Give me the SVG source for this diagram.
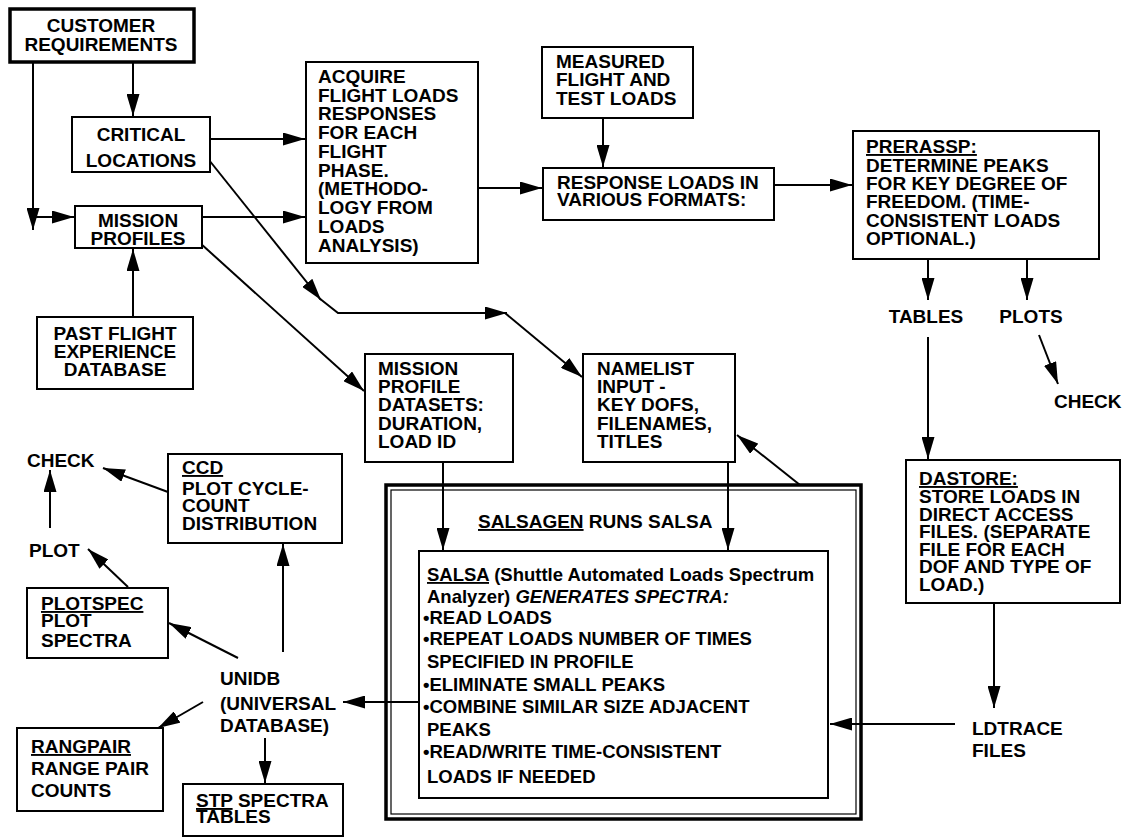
<svg xmlns="http://www.w3.org/2000/svg" width="1127" height="837" viewBox="0 0 1127 837">
  <style>
    .box { fill: #fff; stroke: #000; stroke-width: 2; }
    .thick { fill: #fff; stroke: #000; stroke-width: 3.5; }
    .t { font-family: "Liberation Sans", Arial, sans-serif; font-weight: bold; font-size: 19px; fill: #000; }
    .s { font-size: 18.5px; }
    .c { text-anchor: middle; }
    .u { text-decoration: underline; }
    .i { font-style: italic; }
    .ln { fill: none; stroke: #000; stroke-width: 2; }
    .arr { marker-end: url(#ah); }
  </style>
  <defs>
    <marker id="ah" markerUnits="userSpaceOnUse" markerWidth="23" markerHeight="13" refX="22" refY="6.5" orient="auto">
      <path d="M0,0 L22,6.5 L0,13 z" fill="#000"/>
    </marker>
  </defs>
  <rect width="1127" height="837" fill="#fff"/>

  <!-- connectors -->
  <g id="connectors">
    <line class="ln arr" x1="133" y1="63" x2="133" y2="116"/>
    <line class="ln arr" x1="33" y1="63" x2="33" y2="230"/>
    <line class="ln arr" x1="34" y1="217" x2="74" y2="217"/>
    <line class="ln arr" x1="210" y1="139" x2="305" y2="139"/>
    <line class="ln arr" x1="202" y1="217" x2="305" y2="217"/>
    <line class="ln arr" x1="133" y1="317" x2="133" y2="249"/>
    <line class="ln arr" x1="603" y1="118" x2="603" y2="167"/>
    <line class="ln arr" x1="478" y1="188" x2="542" y2="188"/>
    <line class="ln arr" x1="774" y1="185" x2="852" y2="185"/>
    <line class="ln arr" x1="928" y1="259" x2="928" y2="300"/>
    <line class="ln arr" x1="1027" y1="259" x2="1027" y2="300"/>
    <line class="ln arr" x1="1039" y1="335" x2="1058" y2="384"/>
    <line class="ln arr" x1="928" y1="337" x2="928" y2="459"/>
    <line class="ln arr" x1="994" y1="603" x2="994" y2="708"/>
    <line class="ln arr" x1="955" y1="724" x2="830" y2="724"/>
    <!-- critical locations to namelist -->
    <line class="ln arr" x1="209" y1="160" x2="321" y2="300"/>
    <polyline class="ln arr" points="319,298 338,313 507,313"/>
    <line class="ln arr" x1="505" y1="313" x2="582" y2="377"/>
    <!-- mission profiles to datasets -->
    <line class="ln arr" x1="200" y1="243" x2="364" y2="391"/>
    <line class="ln arr" x1="443" y1="462" x2="443" y2="550"/>
    <line class="ln arr" x1="728" y1="462" x2="728" y2="550"/>
    <line class="ln arr" x1="800" y1="485" x2="737" y2="435"/>
    <line class="ln arr" x1="419" y1="702" x2="343" y2="702"/>
    <!-- unidb outputs -->
    <line class="ln arr" x1="283" y1="652" x2="283" y2="544"/>
    <line class="ln arr" x1="238" y1="658" x2="169" y2="623"/>
    <line class="ln arr" x1="203" y1="702" x2="158" y2="728"/>
    <line class="ln arr" x1="265" y1="738" x2="265" y2="783"/>
    <line class="ln arr" x1="168" y1="492" x2="103" y2="468"/>
    <line class="ln arr" x1="50" y1="528" x2="50" y2="470"/>
    <line class="ln arr" x1="128" y1="587" x2="88" y2="549"/>
  </g>

  <g id="customer-requirements">
    <rect class="thick" x="10" y="9" width="184" height="53"/>
    <text class="t c" x="101" y="32">CUSTOMER</text>
    <text class="t c" x="101" y="51">REQUIREMENTS</text>
  </g>

  <g id="critical-locations">
    <rect class="box" x="72" y="117" width="138" height="55"/>
    <text class="t c" x="141" y="141">CRITICAL</text>
    <text class="t c" x="141" y="167">LOCATIONS</text>
  </g>

  <g id="mission-profiles">
    <rect class="box" x="75" y="206" width="127" height="42"/>
    <text class="t c" x="138" y="227">MISSION</text>
    <text class="t c" x="138" y="245">PROFILES</text>
  </g>

  <g id="past-flight">
    <rect class="box" x="37" y="317" width="156" height="72"/>
    <text class="t c" x="115" y="340">PAST FLIGHT</text>
    <text class="t c" x="115" y="358">EXPERIENCE</text>
    <text class="t c" x="115" y="376">DATABASE</text>
  </g>

  <g id="acquire">
    <rect class="box" x="306" y="62" width="172" height="201"/>
    <text class="t" x="318" y="83">ACQUIRE</text>
    <text class="t" x="318" y="102">FLIGHT LOADS</text>
    <text class="t" x="318" y="120">RESPONSES</text>
    <text class="t" x="318" y="139">FOR EACH</text>
    <text class="t" x="318" y="158">FLIGHT</text>
    <text class="t" x="318" y="177">PHASE.</text>
    <text class="t" x="318" y="195">(METHODO-</text>
    <text class="t" x="318" y="214">LOGY FROM</text>
    <text class="t" x="318" y="233">LOADS</text>
    <text class="t" x="318" y="252">ANALYSIS)</text>
  </g>

  <g id="measured">
    <rect class="box" x="542" y="47" width="151" height="71"/>
    <text class="t" x="556" y="68">MEASURED</text>
    <text class="t" x="556" y="86">FLIGHT AND</text>
    <text class="t" x="556" y="105">TEST LOADS</text>
  </g>

  <g id="response-loads">
    <rect class="box" x="543" y="168" width="231" height="52"/>
    <text class="t" x="557" y="189">RESPONSE LOADS IN</text>
    <text class="t" x="557" y="206">VARIOUS FORMATS:</text>
  </g>

  <g id="prerassp">
    <rect class="box" x="853" y="131" width="246" height="128"/>
    <text class="t" x="866" y="153"><tspan class="u">PRERASSP:</tspan></text>
    <text class="t" x="866" y="172">DETERMINE PEAKS</text>
    <text class="t" x="866" y="190">FOR KEY DEGREE OF</text>
    <text class="t" x="866" y="208">FREEDOM.  (TIME-</text>
    <text class="t" x="866" y="227">CONSISTENT LOADS</text>
    <text class="t" x="866" y="245">OPTIONAL.)</text>
  </g>

  <g id="tables"><text class="t c" x="926" y="323">TABLES</text></g>
  <g id="plots"><text class="t c" x="1031" y="323">PLOTS</text></g>
  <g id="check-plots"><text class="t" x="1054" y="408">CHECK</text></g>

  <g id="dastore">
    <rect class="box" x="906" y="460" width="214" height="143"/>
    <text class="t" x="919" y="485"><tspan class="u">DASTORE:</tspan></text>
    <text class="t" x="919" y="503">STORE LOADS IN</text>
    <text class="t" x="919" y="521">DIRECT ACCESS</text>
    <text class="t" x="919" y="538">FILES.  (SEPARATE</text>
    <text class="t" x="919" y="556">FILE FOR EACH</text>
    <text class="t" x="919" y="573">DOF AND TYPE OF</text>
    <text class="t" x="919" y="591">LOAD.)</text>
  </g>

  <g id="ldtrace">
    <text class="t" x="972" y="735">LDTRACE</text>
    <text class="t" x="972" y="757">FILES</text>
  </g>

  <g id="mission-datasets">
    <rect class="box" x="365" y="354" width="148" height="108"/>
    <text class="t" x="378" y="375">MISSION</text>
    <text class="t" x="378" y="393">PROFILE</text>
    <text class="t" x="378" y="411">DATASETS:</text>
    <text class="t" x="378" y="430">DURATION,</text>
    <text class="t" x="378" y="448">LOAD ID</text>
  </g>

  <g id="namelist">
    <rect class="box" x="583" y="354" width="152" height="108"/>
    <text class="t" x="597" y="375">NAMELIST</text>
    <text class="t" x="597" y="393">INPUT -</text>
    <text class="t" x="597" y="411">KEY DOFS,</text>
    <text class="t" x="597" y="430">FILENAMES,</text>
    <text class="t" x="597" y="448">TITLES</text>
  </g>

  <g id="salsagen">
    <rect x="386" y="485" width="475" height="334" fill="none" stroke="#000" stroke-width="3.5"/>
    <rect x="391" y="490" width="465" height="324" fill="none" stroke="#000" stroke-width="1.2"/>
    <text class="t" x="478" y="528"><tspan class="u">SALSAGEN</tspan> RUNS SALSA</text>
  </g>

  <g id="salsa">
    <rect class="box" x="419" y="551" width="409" height="247"/>
    <text class="t s" x="427" y="581"><tspan class="u">SALSA</tspan> (Shuttle Automated Loads Spectrum</text>
    <text class="t s" x="427" y="603">Analyzer)  <tspan class="i">GENERATES SPECTRA:</tspan></text>
    <text class="t s" x="423" y="624">•READ LOADS</text>
    <text class="t s" x="423" y="645">•REPEAT LOADS NUMBER OF TIMES</text>
    <text class="t s" x="427" y="668">SPECIFIED IN PROFILE</text>
    <text class="t s" x="423" y="691">•ELIMINATE SMALL PEAKS</text>
    <text class="t s" x="423" y="713">•COMBINE SIMILAR SIZE ADJACENT</text>
    <text class="t s" x="427" y="736">PEAKS</text>
    <text class="t s" x="423" y="758">•READ/WRITE TIME-CONSISTENT</text>
    <text class="t s" x="427" y="783">LOADS IF NEEDED</text>
  </g>

  <g id="unidb">
    <text class="t" x="220" y="685">UNIDB</text>
    <text class="t" x="220" y="710">(UNIVERSAL</text>
    <text class="t" x="220" y="732">DATABASE)</text>
  </g>

  <g id="ccd">
    <rect class="box" x="168" y="454" width="174" height="89"/>
    <text class="t" x="182" y="474"><tspan class="u">CCD</tspan></text>
    <text class="t" x="182" y="495">PLOT CYCLE-</text>
    <text class="t" x="182" y="512">COUNT</text>
    <text class="t" x="182" y="530">DISTRIBUTION</text>
  </g>

  <g id="check-ccd"><text class="t" x="27" y="467">CHECK</text></g>
  <g id="plot"><text class="t" x="29" y="557">PLOT</text></g>

  <g id="plotspec">
    <rect class="box" x="27" y="588" width="141" height="70"/>
    <text class="t" x="41" y="610"><tspan class="u">PLOTSPEC</tspan></text>
    <text class="t" x="41" y="627">PLOT</text>
    <text class="t" x="41" y="647">SPECTRA</text>
  </g>

  <g id="rangpair">
    <rect class="box" x="17" y="728" width="146" height="83"/>
    <text class="t" x="31" y="753"><tspan class="u">RANGPAIR</tspan></text>
    <text class="t" x="31" y="775">RANGE PAIR</text>
    <text class="t" x="31" y="797">COUNTS</text>
  </g>

  <g id="stp">
    <rect class="box" x="183" y="784" width="160" height="52"/>
    <text class="t" x="196" y="807"><tspan class="u">STP</tspan> SPECTRA</text>
    <text class="t" x="196" y="823">TABLES</text>
  </g>
</svg>
